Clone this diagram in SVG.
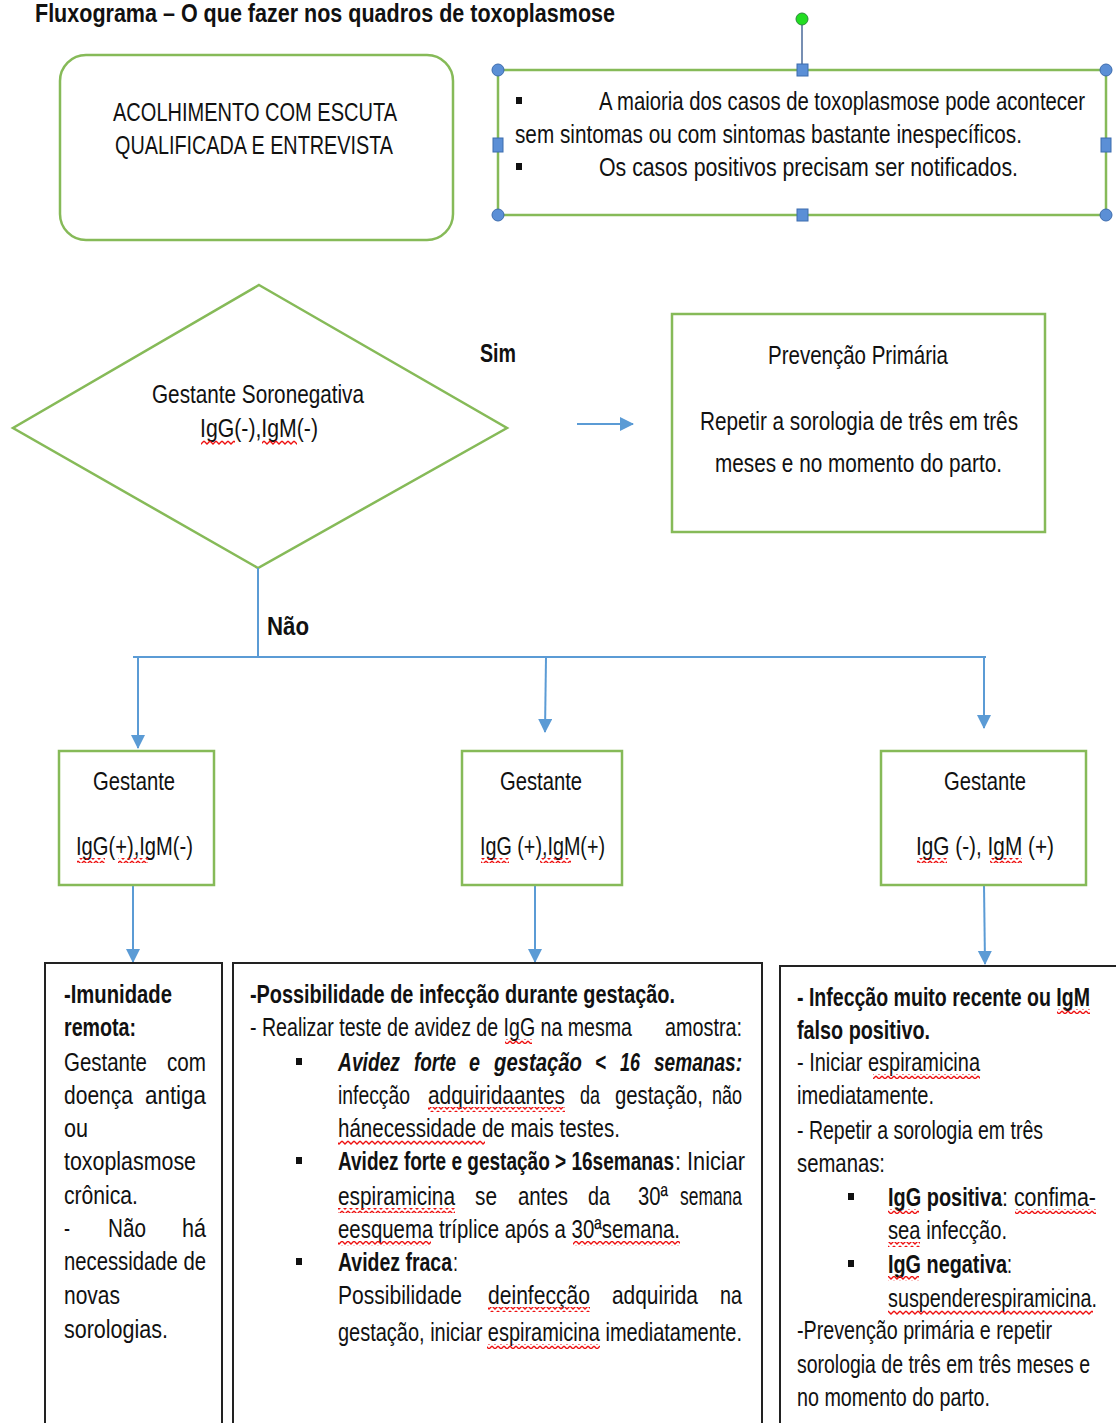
<svg xmlns="http://www.w3.org/2000/svg" width="1116" height="1423" viewBox="0 0 1116 1423">
<style>
.t{font-family:"Liberation Sans Narrow","Liberation Sans",Arial,sans-serif;font-size:25px;fill:#111}
.b{font-weight:bold}
.bi{font-weight:bold;font-style:italic}
.g{fill:#fff;stroke:#86ba58;stroke-width:2.5}
.k{fill:#fff;stroke:#222;stroke-width:2}
.c{stroke:#5b9bd5;stroke-width:2;fill:none}
.h{fill:#5b8fd6;stroke:#3d6cae;stroke-width:1}
.sq{fill:url(#wave)}
.bul{fill:#111}
</style>
<defs>
<pattern id="wave" width="6" height="5" patternUnits="userSpaceOnUse">
<path d="M0,1 L3,4 L6,1" stroke="#e11" stroke-width="1.3" fill="none"/>
</pattern>
<marker id="ar" markerUnits="userSpaceOnUse" markerWidth="14" markerHeight="18" refX="13" refY="7" orient="auto">
<path d="M0,0 L14,7 L0,14 Z" fill="#5b9bd5"/>
</marker>
</defs>
<rect width="1116" height="1423" fill="#fff"/>

<text class="t b" x="35" y="22" font-size="28" textLength="580" lengthAdjust="spacingAndGlyphs">Fluxograma – O que fazer nos quadros de toxoplasmose</text>

<g id="acolhimento">
<rect class="g" x="60" y="55" width="393" height="185" rx="26"/>
<text class="t" x="113" y="121" textLength="284" lengthAdjust="spacingAndGlyphs">ACOLHIMENTO COM ESCUTA</text>
<text class="t" x="115" y="154" textLength="278" lengthAdjust="spacingAndGlyphs">QUALIFICADA E ENTREVISTA</text>
</g>

<g id="nota">
<rect class="g" x="498" y="70" width="608" height="145"/>
<rect class="bul" x="516" y="97" width="6" height="7"/>
<text class="t" x="599" y="110" textLength="486" lengthAdjust="spacingAndGlyphs">A maioria dos casos de toxoplasmose pode acontecer</text>
<text class="t" x="515" y="143" textLength="507" lengthAdjust="spacingAndGlyphs">sem sintomas ou com sintomas bastante inespecíficos.</text>
<rect class="bul" x="516" y="163" width="6" height="7"/>
<text class="t" x="599" y="176" textLength="419" lengthAdjust="spacingAndGlyphs">Os casos positivos precisam ser notificados.</text>
<line x1="802" y1="25" x2="802" y2="66" stroke="#4a6a9a" stroke-width="1.5"/>
<circle cx="802" cy="19" r="6" fill="#22dd22" stroke="#2a8a3a" stroke-width="1"/>
<circle class="h" cx="498" cy="70" r="6"/>
<circle class="h" cx="1106" cy="70" r="6"/>
<circle class="h" cx="498" cy="215" r="6"/>
<circle class="h" cx="1106" cy="215" r="6"/>
<rect class="h" x="797" y="64" width="11" height="12"/>
<rect class="h" x="797" y="209" width="11" height="12"/>
<rect class="h" x="493" y="138" width="10" height="14"/>
<rect class="h" x="1101" y="138" width="10" height="14"/>
</g>

<g id="decisao">
<polygon class="g" points="259,285 507,428 258,568 13,428"/>
<text class="t" x="152" y="403" textLength="212" lengthAdjust="spacingAndGlyphs">Gestante Soronegativa</text>
<text class="t" x="200" y="437" textLength="118" lengthAdjust="spacingAndGlyphs">IgG(-),IgM(-)</text>
<rect class="sq" x="201" y="440" width="34" height="5"/>
<rect class="sq" x="262" y="440" width="35" height="5"/>
</g>

<g id="prevencao">
<rect class="g" x="672" y="314" width="373" height="218"/>
<text class="t" x="768" y="364" textLength="180" lengthAdjust="spacingAndGlyphs">Prevenção Primária</text>
<text class="t" x="700" y="430" textLength="318" lengthAdjust="spacingAndGlyphs">Repetir a sorologia de três em três</text>
<text class="t" x="715" y="472" textLength="287" lengthAdjust="spacingAndGlyphs">meses e no momento do parto.</text>
</g>

<g id="connectors">
<line class="c" x1="577" y1="424" x2="633" y2="424" marker-end="url(#ar)"/>
<line class="c" x1="258" y1="568" x2="258" y2="657"/>
<line class="c" x1="133" y1="657" x2="986" y2="657" stroke-width="3"/>
<line class="c" x1="138" y1="657" x2="138" y2="748" marker-end="url(#ar)"/>
<line class="c" x1="546" y1="657" x2="545" y2="732" marker-end="url(#ar)"/>
<line class="c" x1="984" y1="657" x2="984" y2="728" marker-end="url(#ar)"/>
<line class="c" x1="133" y1="885" x2="133" y2="962" marker-end="url(#ar)"/>
<line class="c" x1="535" y1="885" x2="535" y2="962" marker-end="url(#ar)"/>
<line class="c" x1="984" y1="885" x2="985" y2="964" marker-end="url(#ar)"/>
<text class="t b" x="480" y="362" font-size="28" textLength="36" lengthAdjust="spacingAndGlyphs">Sim</text>
<text class="t b" x="267" y="635" font-size="28" textLength="42" lengthAdjust="spacingAndGlyphs">Não</text>
</g>

<g id="gestanteA">
<rect class="g" x="59" y="751" width="155" height="134"/>
<text class="t" x="93" y="790" textLength="82" lengthAdjust="spacingAndGlyphs">Gestante</text>
<text class="t" x="76" y="855" textLength="117" lengthAdjust="spacingAndGlyphs">IgG(+),IgM(-)</text>
<rect class="sq" x="77" y="858" width="28" height="5"/>
<rect class="sq" x="118" y="858" width="30" height="5"/>
</g>

<g id="gestanteB">
<rect class="g" x="462" y="751" width="160" height="134"/>
<text class="t" x="500" y="790" textLength="82" lengthAdjust="spacingAndGlyphs">Gestante</text>
<text class="t" x="480" y="855" textLength="125" lengthAdjust="spacingAndGlyphs">IgG (+),IgM(+)</text>
<rect class="sq" x="481" y="858" width="28" height="5"/>
<rect class="sq" x="540" y="858" width="31" height="5"/>
</g>

<g id="gestanteC">
<rect class="g" x="881" y="751" width="205" height="134"/>
<text class="t" x="944" y="790" textLength="82" lengthAdjust="spacingAndGlyphs">Gestante</text>
<text class="t" x="916" y="855" textLength="138" lengthAdjust="spacingAndGlyphs">IgG (-), IgM (+)</text>
<rect class="sq" x="917" y="858" width="30" height="5"/>
<rect class="sq" x="990" y="858" width="32" height="5"/>
</g>

<g id="imunidade">
<rect class="k" x="45" y="963" width="177" height="480"/>
<text class="t b" x="64" y="1003" textLength="108" lengthAdjust="spacingAndGlyphs">-Imunidade</text>
<text class="t b" x="64" y="1036" textLength="72" lengthAdjust="spacingAndGlyphs">remota:</text>
<text class="t" x="64" y="1071" textLength="83" lengthAdjust="spacingAndGlyphs">Gestante</text>
<text class="t" x="167" y="1071" textLength="39" lengthAdjust="spacingAndGlyphs">com</text>
<text class="t" x="64" y="1104" textLength="69" lengthAdjust="spacingAndGlyphs">doença</text>
<text class="t" x="145" y="1104" textLength="61" lengthAdjust="spacingAndGlyphs">antiga</text>
<text class="t" x="64" y="1137" textLength="24" lengthAdjust="spacingAndGlyphs">ou</text>
<text class="t" x="64" y="1170" textLength="132" lengthAdjust="spacingAndGlyphs">toxoplasmose</text>
<text class="t" x="64" y="1204" textLength="74" lengthAdjust="spacingAndGlyphs">crônica.</text>
<text class="t" x="64" y="1237" textLength="6" lengthAdjust="spacingAndGlyphs">-</text>
<text class="t" x="108" y="1237" textLength="38" lengthAdjust="spacingAndGlyphs">Não</text>
<text class="t" x="182" y="1237" textLength="24" lengthAdjust="spacingAndGlyphs">há</text>
<text class="t" x="64" y="1270" textLength="142" lengthAdjust="spacingAndGlyphs">necessidade de</text>
<text class="t" x="64" y="1304" textLength="56" lengthAdjust="spacingAndGlyphs">novas</text>
<text class="t" x="64" y="1338" textLength="104" lengthAdjust="spacingAndGlyphs">sorologias.</text>
</g>

<g id="possibilidade">
<rect class="k" x="233" y="963" width="529" height="480"/>
<text class="t b" x="250" y="1003" textLength="425" lengthAdjust="spacingAndGlyphs">-Possibilidade de infecção durante gestação.</text>
<text class="t" x="250" y="1036" textLength="382" lengthAdjust="spacingAndGlyphs">- Realizar teste de avidez de IgG na mesma</text>
<text class="t" x="665" y="1036" textLength="77" lengthAdjust="spacingAndGlyphs">amostra:</text>
<rect class="sq" x="505" y="1039" width="27" height="5"/>
<rect class="bul" x="296" y="1058" width="6" height="7"/>
<text class="t bi" x="338" y="1071" textLength="62" lengthAdjust="spacingAndGlyphs">Avidez</text>
<text class="t bi" x="414" y="1071" textLength="42" lengthAdjust="spacingAndGlyphs">forte</text>
<text class="t bi" x="469" y="1071" textLength="11" lengthAdjust="spacingAndGlyphs">e</text>
<text class="t bi" x="494" y="1071" textLength="88" lengthAdjust="spacingAndGlyphs">gestação</text>
<text class="t bi" x="595" y="1071" textLength="11" lengthAdjust="spacingAndGlyphs">&lt;</text>
<text class="t bi" x="620" y="1071" textLength="20" lengthAdjust="spacingAndGlyphs">16</text>
<text class="t bi" x="654" y="1071" textLength="88" lengthAdjust="spacingAndGlyphs">semanas:</text>
<text class="t" x="338" y="1104" textLength="72" lengthAdjust="spacingAndGlyphs">infecção</text>
<text class="t" x="428" y="1104" textLength="137" lengthAdjust="spacingAndGlyphs">adquiridaantes</text>
<text class="t" x="580" y="1104" textLength="20" lengthAdjust="spacingAndGlyphs">da</text>
<text class="t" x="615" y="1104" textLength="88" lengthAdjust="spacingAndGlyphs">gestação,</text>
<text class="t" x="712" y="1104" textLength="30" lengthAdjust="spacingAndGlyphs">não</text>
<rect class="sq" x="428" y="1107" width="137" height="5"/>
<text class="t" x="338" y="1137" textLength="282" lengthAdjust="spacingAndGlyphs">hánecessidade de mais testes.</text>
<rect class="sq" x="338" y="1140" width="147" height="5"/>
<rect class="bul" x="296" y="1157" width="6" height="7"/>
<text class="t b" x="338" y="1170" textLength="336" lengthAdjust="spacingAndGlyphs">Avidez forte e gestação &gt; 16semanas</text>
<text class="t" x="675" y="1170" textLength="70" lengthAdjust="spacingAndGlyphs">: Iniciar</text>
<text class="t" x="338" y="1205" textLength="117" lengthAdjust="spacingAndGlyphs">espiramicina</text>
<text class="t" x="475" y="1205" textLength="22" lengthAdjust="spacingAndGlyphs">se</text>
<text class="t" x="518" y="1205" textLength="50" lengthAdjust="spacingAndGlyphs">antes</text>
<text class="t" x="588" y="1205" textLength="22" lengthAdjust="spacingAndGlyphs">da</text>
<text class="t" x="638" y="1205" textLength="30" lengthAdjust="spacingAndGlyphs">30ª</text>
<text class="t" x="680" y="1205" textLength="62" lengthAdjust="spacingAndGlyphs">semana</text>
<rect class="sq" x="338" y="1208" width="117" height="5"/>
<text class="t" x="338" y="1238" textLength="342" lengthAdjust="spacingAndGlyphs">eesquema tríplice após a 30ªsemana.</text>
<rect class="sq" x="338" y="1241" width="93" height="5"/>
<rect class="sq" x="573" y="1241" width="107" height="5"/>
<rect class="bul" x="296" y="1258" width="6" height="7"/>
<text class="t b" x="338" y="1271" textLength="114" lengthAdjust="spacingAndGlyphs">Avidez fraca</text>
<text class="t" x="453" y="1271" textLength="5" lengthAdjust="spacingAndGlyphs">:</text>
<text class="t" x="338" y="1304" textLength="124" lengthAdjust="spacingAndGlyphs">Possibilidade</text>
<text class="t" x="488" y="1304" textLength="102" lengthAdjust="spacingAndGlyphs">deinfecção</text>
<text class="t" x="612" y="1304" textLength="86" lengthAdjust="spacingAndGlyphs">adquirida</text>
<text class="t" x="720" y="1304" textLength="22" lengthAdjust="spacingAndGlyphs">na</text>
<rect class="sq" x="488" y="1307" width="102" height="5"/>
<text class="t" x="338" y="1341" textLength="404" lengthAdjust="spacingAndGlyphs">gestação, iniciar espiramicina imediatamente.</text>
<rect class="sq" x="487" y="1344" width="113" height="5"/>
</g>

<g id="infeccao">
<rect class="k" x="780" y="966" width="350" height="480"/>
<text class="t b" x="797" y="1006" textLength="293" lengthAdjust="spacingAndGlyphs">- Infecção muito recente ou IgM</text>
<rect class="sq" x="1057" y="1009" width="33" height="5"/>
<text class="t b" x="797" y="1039" textLength="133" lengthAdjust="spacingAndGlyphs">falso positivo.</text>
<text class="t" x="797" y="1071" textLength="183" lengthAdjust="spacingAndGlyphs">- Iniciar espiramicina</text>
<rect class="sq" x="873" y="1074" width="107" height="5"/>
<text class="t" x="797" y="1104" textLength="137" lengthAdjust="spacingAndGlyphs">imediatamente.</text>
<text class="t" x="797" y="1139" textLength="246" lengthAdjust="spacingAndGlyphs">- Repetir a sorologia em três</text>
<text class="t" x="797" y="1172" textLength="88" lengthAdjust="spacingAndGlyphs">semanas:</text>
<rect class="bul" x="848" y="1193" width="6" height="7"/>
<text class="t b" x="888" y="1206" textLength="114" lengthAdjust="spacingAndGlyphs">IgG positiva</text>
<text class="t" x="1002" y="1206" textLength="94" lengthAdjust="spacingAndGlyphs">: confima-</text>
<rect class="sq" x="888" y="1209" width="31" height="5"/>
<rect class="sq" x="1015" y="1209" width="81" height="5"/>
<text class="t" x="888" y="1239" textLength="119" lengthAdjust="spacingAndGlyphs">sea infecção.</text>
<rect class="sq" x="888" y="1242" width="32" height="5"/>
<rect class="bul" x="848" y="1260" width="6" height="7"/>
<text class="t b" x="888" y="1273" textLength="119" lengthAdjust="spacingAndGlyphs">IgG negativa</text>
<text class="t" x="1007" y="1273" textLength="5" lengthAdjust="spacingAndGlyphs">:</text>
<rect class="sq" x="888" y="1276" width="31" height="5"/>
<text class="t" x="888" y="1307" textLength="209" lengthAdjust="spacingAndGlyphs">suspenderespiramicina.</text>
<rect class="sq" x="888" y="1310" width="205" height="5"/>
<text class="t" x="797" y="1339" textLength="255" lengthAdjust="spacingAndGlyphs">-Prevenção primária e repetir</text>
<text class="t" x="797" y="1373" textLength="293" lengthAdjust="spacingAndGlyphs">sorologia de três em três meses e</text>
<text class="t" x="797" y="1406" textLength="193" lengthAdjust="spacingAndGlyphs">no momento do parto.</text>
</g>
</svg>
